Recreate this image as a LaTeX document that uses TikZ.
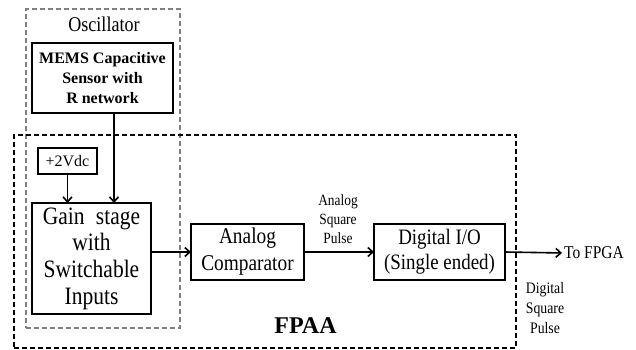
\documentclass[tikz,border=0pt]{standalone}
\usepackage{fontspec}
\setmainfont{Liberation Serif}
% narrow-set serif used for the block and label texts
\newfontfamily\tallrm[FakeStretch=0.86]{Liberation Serif}
\usetikzlibrary{arrows.meta,calc}
\tikzset{
  blk/.style={draw=black, line width=1.8pt, inner sep=0pt, outer sep=0pt, align=center},
  oscframe/.style={draw=black!50, line width=1.3pt, dash pattern=on 5pt off 3pt, inner sep=0pt, outer sep=0pt},
  fpaaframe/.style={draw=black, line width=1.4pt, dash pattern=on 5pt off 3pt, inner sep=0pt, outer sep=0pt},
  arr/.style={line width=1.6pt, -{Straight Barb[length=5pt,width=9pt,line width=1.6pt]}},
  lbl/.style={inner sep=0pt, align=center}
}
\begin{document}
\begin{tikzpicture}[x=1pt,y=-1pt]
\useasboundingbox (0,0) rectangle (636,349);
% enclosing frames
\node[oscframe, minimum width=154pt, minimum height=319pt] (osc) at (103,168.5) {};
\node[fpaaframe, minimum width=502pt, minimum height=213pt] (fpaa) at (265,241.5) {};
% blocks
\node[blk, minimum width=141pt, minimum height=70pt, font=\bfseries\fontsize{16}{20}\selectfont] (mems) at (102.5,78) {MEMS Capacitive\\Sensor with\\R network};
\node[blk, minimum width=59pt, minimum height=26pt, font=\fontsize{16}{18}\selectfont] (vdc) at (67.5,161) {+2Vdc};
\node[blk, minimum width=119pt, minimum height=111pt, font=\tallrm\fontsize{25}{26.7}\selectfont] (gain) at (91.5,258.5) {Gain\hspace{0.45em}stage\\with\\Switchable\\Inputs};
\node[blk, minimum width=113pt, minimum height=56pt, font=\tallrm\fontsize{22.5}{27}\selectfont] (comp) at (247.5,252) {Analog\\Comparator};
\node[blk, minimum width=131pt, minimum height=56pt, font=\tallrm\fontsize{22}{25}\selectfont] (dig) at (439.5,252) {Digital I/O\\(Single ended)};
% labels
\node[lbl, font=\tallrm\fontsize{21}{22}\selectfont] (osclbl) at (104,24) {Oscillator};
\node[lbl, anchor=west, font=\tallrm\fontsize{18}{20}\selectfont] (fpga) at (564,253) {To FPGA};
\node[lbl, font=\tallrm\fontsize{15.6}{19}\selectfont] (asp) at (338,219) {Analog\\Square\\Pulse};
\node[lbl, font=\tallrm\fontsize{16}{20}\selectfont] (dsp) at (545,308) {Digital\\Square\\Pulse};
\node[lbl, font=\bfseries\fontsize{24}{24}\selectfont] (fpaalbl) at (305.5,326) {FPAA};
% connectors
\draw[arr] (vdc.south) -- (vdc.south |- gain.north);
\draw[arr] ($(mems.south)+(11.5,0)$) coordinate (ms) -- (ms |- gain.north);
\draw[arr] (comp.west -| gain.east) -- (comp.west);
\draw[arr] (comp.east) -- (dig.west);
\draw[arr, shorten >=2pt] (dig.east) -- (fpga.west);
\end{tikzpicture}
\end{document}
